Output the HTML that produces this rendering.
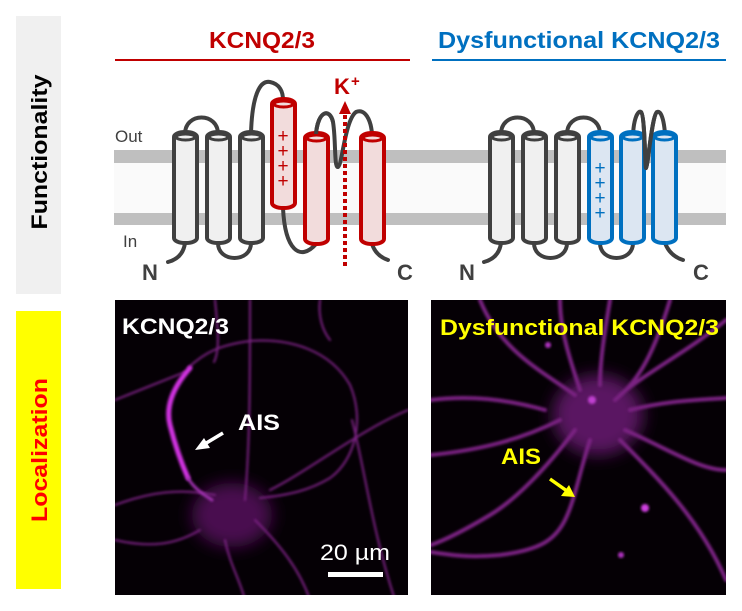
<!DOCTYPE html>
<html><head><meta charset="utf-8"><style>
html,body{margin:0;padding:0;background:#fff;}
svg{display:block;font-family:"Liberation Sans",Arial,sans-serif;}
</style></head><body>
<svg width="742" height="611" viewBox="0 0 742 611" xmlns="http://www.w3.org/2000/svg">
<defs>
<filter id="bl" x="-20%" y="-20%" width="140%" height="140%"><feGaussianBlur stdDeviation="1.4"/></filter>
<filter id="bl2" x="-50%" y="-50%" width="200%" height="200%"><feGaussianBlur stdDeviation="8"/></filter>
<clipPath id="c1"><rect x="115" y="300" width="293" height="295"/></clipPath>
<clipPath id="c2"><rect x="431" y="300" width="295" height="295"/></clipPath>
</defs>
<!-- side panels -->
<rect x="16" y="16" width="45" height="278" fill="#f0f0f0"/>
<text transform="translate(47,152) rotate(-90)" text-anchor="middle" font-size="22" font-weight="bold" fill="#000" textLength="155" lengthAdjust="spacingAndGlyphs">Functionality</text>
<rect x="16" y="311" width="45" height="278" fill="#ffff00"/>
<text transform="translate(47,450) rotate(-90)" text-anchor="middle" font-size="22" font-weight="bold" fill="#ff0000" textLength="144" lengthAdjust="spacingAndGlyphs">Localization</text>

<!-- titles -->
<text x="209" y="48" font-size="23" font-weight="bold" fill="#c00000" textLength="106" lengthAdjust="spacingAndGlyphs">KCNQ2/3</text>
<rect x="115" y="59" width="295" height="2" fill="#c00000"/>
<text x="438" y="48" font-size="23" font-weight="bold" fill="#0070c0" textLength="282" lengthAdjust="spacingAndGlyphs">Dysfunctional KCNQ2/3</text>
<rect x="432" y="59" width="294" height="2" fill="#0070c0"/>

<!-- membrane -->
<rect x="114" y="150" width="612" height="75" fill="#fafafa"/>
<rect x="114" y="150" width="612" height="13" fill="#bfbfbf"/>
<rect x="114" y="213" width="612" height="12" fill="#bfbfbf"/>
<text x="115" y="142" font-size="17" fill="#404040">Out</text>
<text x="123" y="247" font-size="17" fill="#404040">In</text>
<text x="142" y="280" font-size="22" font-weight="bold" fill="#404040">N</text>
<text x="397" y="280" font-size="22" font-weight="bold" fill="#404040">C</text>
<text x="459" y="280" font-size="22" font-weight="bold" fill="#404040">N</text>
<text x="693" y="280" font-size="22" font-weight="bold" fill="#404040">C</text>

<!-- left loops -->
<g fill="none" stroke="#404040" stroke-width="4" stroke-linecap="round">
<path d="M168,262 Q183,258 185,243"/>
<path d="M185,134 C185,112 218,112 218,134"/>
<path d="M218,243 C218,263 251,263 251,243"/>
<path d="M251,134 C252,95 260,80 270,82 C280,84 283,92 283,100"/>
<path d="M283,208 C285,250 300,262 316,244"/>
<path d="M316,134 C318,110 330,108 333,122 C336,140 334,168 338,167 C342,166 345,120 356,112 C365,108 371,120 372,134"/>
<path d="M372,244 Q376,256 388,260"/>
</g>
<!-- left cylinders -->
<g stroke-width="4">
<g fill="#f0f0f0" stroke="#404040">
<rect x="174" y="132" width="23" height="111" rx="11" ry="5"/><ellipse cx="185.5" cy="137" rx="9.5" ry="3" fill="none" stroke-width="3"/>
<rect x="207" y="132" width="23" height="111" rx="11" ry="5"/><ellipse cx="218.5" cy="137" rx="9.5" ry="3" fill="none" stroke-width="3"/>
<rect x="240" y="132" width="23" height="111" rx="11" ry="5"/><ellipse cx="251.5" cy="137" rx="9.5" ry="3" fill="none" stroke-width="3"/>
</g>
<g fill="#f2dcdc" stroke="#c00000">
<rect x="272" y="99" width="23" height="109" rx="11" ry="5"/><ellipse cx="283.5" cy="104" rx="9.5" ry="3" fill="none" stroke-width="3"/>
<rect x="305" y="133" width="23" height="111" rx="11" ry="5"/><ellipse cx="316.5" cy="138" rx="9.5" ry="3" fill="none" stroke-width="3"/>
<rect x="361" y="133" width="23" height="111" rx="11" ry="5"/><ellipse cx="372.5" cy="138" rx="9.5" ry="3" fill="none" stroke-width="3"/>
</g>
</g>
<g fill="#c00000" font-size="19" text-anchor="middle">
<text x="283" y="142">+</text><text x="283" y="157">+</text><text x="283" y="172">+</text><text x="283" y="187">+</text>
</g>
<path d="M316,134 C318,110 330,108 333,122" fill="none" stroke="#404040" stroke-width="4"/>
<line x1="345" y1="266" x2="345" y2="113" stroke="#c00000" stroke-width="4" stroke-dasharray="4,3"/>
<polygon points="339,114 351,114 345,101" fill="#c00000"/>
<text x="334" y="94" font-size="22" font-weight="bold" fill="#c00000">K</text>
<text x="351" y="86" font-size="15" font-weight="bold" fill="#c00000">+</text>

<!-- right loops -->
<g fill="none" stroke="#404040" stroke-width="4" stroke-linecap="round">
<path d="M484,262 Q499,258 501,243"/>
<path d="M501,134 C501,112 534,112 534,134"/>
<path d="M534,243 C534,263 567,263 567,243"/>
<path d="M567,134 C567,112 600,112 600,134"/>
<path d="M600,243 C600,263 633,263 633,243"/>
<path d="M633,134 C634,118 638,110 641,112 C645,115 645,170 646,168 C648,166 652,115 657,112 C661,110 664,120 665,134"/>
<path d="M665,243 Q670,256 683,260"/>
</g>
<g stroke-width="4">
<g fill="#f0f0f0" stroke="#404040">
<rect x="490" y="132" width="23" height="111" rx="11" ry="5"/><ellipse cx="501.5" cy="137" rx="9.5" ry="3" fill="none" stroke-width="3"/>
<rect x="523" y="132" width="23" height="111" rx="11" ry="5"/><ellipse cx="534.5" cy="137" rx="9.5" ry="3" fill="none" stroke-width="3"/>
<rect x="556" y="132" width="23" height="111" rx="11" ry="5"/><ellipse cx="567.5" cy="137" rx="9.5" ry="3" fill="none" stroke-width="3"/>
</g>
<g fill="#dce6f2" stroke="#0070c0">
<rect x="589" y="132" width="23" height="111" rx="11" ry="5"/><ellipse cx="600.5" cy="137" rx="9.5" ry="3" fill="none" stroke-width="3"/>
<rect x="621" y="132" width="23" height="111" rx="11" ry="5"/><ellipse cx="632.5" cy="137" rx="9.5" ry="3" fill="none" stroke-width="3"/>
<rect x="653" y="132" width="23" height="111" rx="11" ry="5"/><ellipse cx="664.5" cy="137" rx="9.5" ry="3" fill="none" stroke-width="3"/>
</g>
</g>
<path d="M641,112 C645,115 645,170 646,168 C648,166 652,115 657,112" fill="none" stroke="#404040" stroke-width="4"/>
<g fill="#0070c0" font-size="19" text-anchor="middle">
<text x="600" y="174">+</text><text x="600" y="189">+</text><text x="600" y="204">+</text><text x="600" y="219">+</text>
</g>

<!-- left image -->
<rect x="115" y="300" width="293" height="295" fill="#050005"/>
<g clip-path="url(#c1)" fill="none" stroke-linecap="round">
<ellipse cx="232" cy="515" rx="40" ry="32" fill="#4a1050" filter="url(#bl2)" stroke="none"/>
<g stroke="#7a2282" stroke-width="2" filter="url(#bl)">
<path d="M188,368 C205,352 220,345 250,341 C290,338 330,350 350,385 C365,420 355,460 330,478 C310,490 290,495 260,498"/>
<path d="M352,420 C365,470 372,530 395,600"/>
<path d="M215,300 C218,330 220,350 214,362"/>
<path d="M250,300 C250,380 250,440 245,500"/>
<path d="M115,505 C150,492 180,488 215,495"/>
<path d="M225,540 C230,565 240,580 245,600"/>
<path d="M255,520 C280,545 300,570 310,600"/>
<path d="M115,540 C150,548 175,545 200,530"/>
<path d="M270,490 C310,470 360,430 408,410"/>
<path d="M115,400 C140,390 165,380 185,372"/>
<path d="M320,300 C318,315 322,330 330,340"/>
</g>
<path d="M190,368 C175,385 165,405 170,425 C175,445 180,460 188,478" stroke="#d030e0" stroke-width="5" filter="url(#bl)"/>
<path d="M188,478 C195,490 205,495 212,500" stroke="#a030b0" stroke-width="3" filter="url(#bl)"/>
</g>
<text x="122" y="334" font-size="22" font-weight="bold" fill="#fff" textLength="107" lengthAdjust="spacingAndGlyphs">KCNQ2/3</text>
<text x="238" y="430" font-size="22" font-weight="bold" fill="#fff" textLength="42" lengthAdjust="spacingAndGlyphs">AIS</text>
<line x1="223" y1="433" x2="203" y2="445" stroke="#fff" stroke-width="3.5"/>
<polygon points="195,450 204,438 210,448" fill="#fff"/>
<text x="320" y="560" font-size="22" fill="#fff" textLength="70" lengthAdjust="spacingAndGlyphs">20 µm</text>
<rect x="328" y="572" width="55" height="5" fill="#fff"/>

<!-- right image -->
<rect x="431" y="300" width="295" height="295" fill="#050005"/>
<g clip-path="url(#c2)" fill="none" stroke-linecap="round">
<ellipse cx="598" cy="415" rx="45" ry="40" fill="#5a1862" filter="url(#bl2)" stroke="none"/>
<g stroke="#7a2282" stroke-width="4" filter="url(#bl)">
<path d="M590,440 C580,470 575,500 565,520 C555,540 540,550 500,555 C470,558 450,555 431,552"/>
<path d="M575,430 C545,470 515,500 490,515 C465,530 445,540 431,545"/>
<path d="M560,420 C520,440 480,450 431,455"/>
<path d="M575,395 C540,370 500,350 480,300"/>
<path d="M600,385 C600,360 605,330 610,300"/>
<path d="M580,390 C570,360 560,330 560,300"/>
<path d="M620,395 C650,370 690,350 726,320"/>
<path d="M630,410 C670,400 700,400 726,398"/>
<path d="M620,440 C660,480 700,520 726,580"/>
<path d="M625,430 C670,450 700,470 726,470"/>
<path d="M615,400 C640,380 655,350 670,300"/>
<path d="M545,410 C510,400 470,395 431,400"/>
</g>
<circle cx="645" cy="508" r="4" fill="#d040e0" filter="url(#bl)" stroke="none"/>
<circle cx="621" cy="555" r="3" fill="#b030c0" filter="url(#bl)" stroke="none"/>
<circle cx="548" cy="345" r="3" fill="#b030c0" filter="url(#bl)" stroke="none"/>
<circle cx="592" cy="400" r="4" fill="#c040d0" filter="url(#bl)" stroke="none"/>
</g>
<text x="440" y="335" font-size="22" font-weight="bold" fill="#ffff00" textLength="279" lengthAdjust="spacingAndGlyphs">Dysfunctional KCNQ2/3</text>
<text x="501" y="464" font-size="22" font-weight="bold" fill="#ffff00" textLength="40" lengthAdjust="spacingAndGlyphs">AIS</text>
<line x1="550" y1="479" x2="567" y2="491" stroke="#ffff00" stroke-width="3.5"/>
<polygon points="575,497 561,496 569,485" fill="#ffff00"/>
</svg>
</body></html>
